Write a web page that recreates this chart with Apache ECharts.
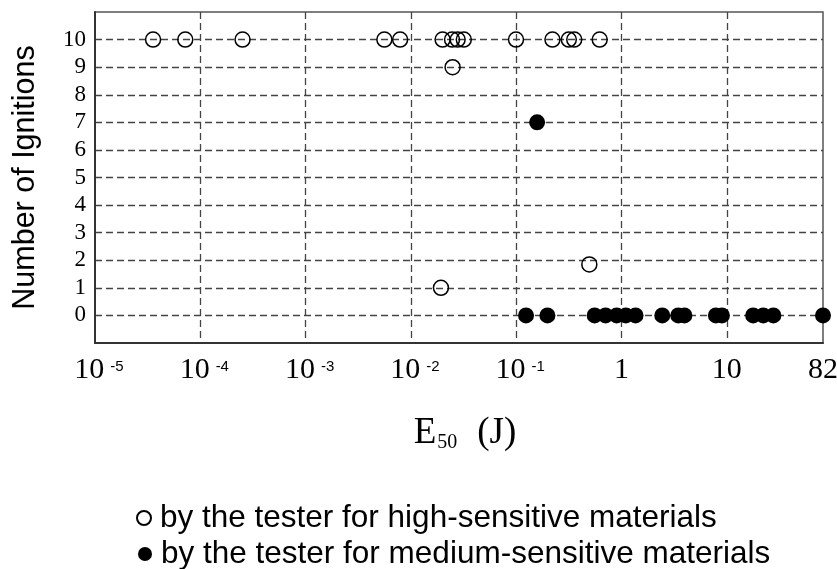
<!DOCTYPE html>
<html>
<head>
<meta charset="utf-8">
<script src="https://cdn.jsdelivr.net/npm/echarts@6/dist/echarts.min.js"></script>
<style>
  html, body { margin: 0; padding: 0; background: #fff; }
  #chart { width: 837px; height: 569px; }
</style>
</head>
<body>
<div id="chart"></div>
<script>
// high-sensitive tester (open circles)
const highE = [3.56e-5, 7.2e-5, 2.52e-4, 5.6e-3, 7.9e-3, 0.020, 0.0246, 0.0278, 0.0318,
  0.0996, 0.221, 0.316, 0.356, 0.621, 0.0249, 0.0193, 0.495]
const highN = [10, 10, 10, 10, 10, 10, 10, 10, 10, 10, 10, 10, 10, 10, 9, 1, 1.85]

// medium-sensitive tester (filled circles)
const medE = [0.158, 0.124, 0.198, 0.556, 0.706, 0.90, 1.10, 1.36, 2.44, 3.46, 3.96,
  7.88, 8.99, 17.8, 22.2, 27.7, 82]
const medN = [7, 0, 0, 0, 0, 0, 0, 0, 0, 0, 0, 0, 0, 0, 0, 0, 0]

const seriesNames = ['by the tester for high-sensitive materials', 'by the tester for medium-sensitive materials']

const serif = 'Liberation Serif'
const sans = 'Liberation Sans'

const toPairs = (xs, ys) => xs.map((x, i) => [x, ys[i]])

// one legend per row, so each row can be placed on its own
const legendRow = (name, top, left) => ({
  left: left,
  top: top,
  itemWidth: 22,
  itemHeight: 14,
  textStyle: { fontFamily: sans, fontSize: 31.5, color: '#000' },
  data: [name]
})

const chart = echarts.init(document.getElementById('chart'))
chart.setOption({
  animation: false,
  grid: {
    left: 95,
    right: 14,
    top: 12,
    bottom: 226,
    outerBoundsMode: 'none',
    show: true,
    borderColor: '#555',
    borderWidth: 1.5
  },
  legend: [
    legendRow(seriesNames[0], 497, 131),
    legendRow(seriesNames[1], 533, 133)
  ],
  xAxis: {
    type: 'log',
    logBase: 10,
    min: 1e-5,
    max: 82,
    splitNumber: 7,
    name: '{e|E}{s|50}{j|(J)}',
    nameLocation: 'middle',
    nameGap: 70,
    nameTextStyle: {
      padding: [0, 0, 0, 12],
      rich: {
        e: { fontFamily: serif, fontSize: 37, lineHeight: 40, color: '#000' },
        s: { fontFamily: serif, fontSize: 20, lineHeight: 10, verticalAlign: 'bottom', color: '#000', padding: [0, 20, 0, 1] },
        j: { fontFamily: serif, fontSize: 37, lineHeight: 40, color: '#000' }
      }
    },
    axisLine: { onZero: false, lineStyle: { color: '#333', width: 2 } },
    axisTick: { show: false },
    axisLabel: {
      margin: 12,
      formatter: function (v) {
        if (Math.abs(v - 82) < 1) return '{b|82}'
        const p = Math.round(Math.log10(v))
        if (p >= 0) return '{b|' + Math.pow(10, p) + '}'
        return '{p|10}{x|' + p + '}'
      },
      rich: {
        b: { fontFamily: serif, fontSize: 30, lineHeight: 30, color: '#000' },
        // powers of ten sit a little right of their tick in the original
        p: { fontFamily: serif, fontSize: 30, lineHeight: 30, color: '#000', padding: [0, 0, 0, 8] },
        x: { fontFamily: sans, fontSize: 15, lineHeight: 30, verticalAlign: 'top', color: '#000', padding: [4, 0, 0, 6] }
      }
    },
    splitLine: {
      show: true,
      showMinLine: false,
      showMaxLine: false,
      lineStyle: { color: '#444', width: 1.3, type: [7, 4] }
    }
  },
  yAxis: {
    type: 'value',
    min: -1,
    max: 11,
    interval: 1,
    name: 'Number of Ignitions',
    nameLocation: 'middle',
    nameRotate: 90,
    nameGap: 54,
    nameTextStyle: { fontFamily: sans, fontSize: 30.5, color: '#000' },
    axisLine: { show: true, onZero: false, lineStyle: { color: '#333', width: 2 } },
    axisTick: { show: false },
    axisLabel: {
      margin: 9,
      fontFamily: serif,
      fontSize: 23,
      color: '#000',
      formatter: v => (v < 0 || v > 10) ? '' : String(v)
    },
    splitLine: {
      show: true,
      showMinLine: false,
      showMaxLine: false,
      lineStyle: { color: '#444', width: 1.3, type: [7, 4] }
    }
  },
  series: [
    {
      name: seriesNames[0],
      type: 'scatter',
      symbol: 'circle',
      symbolSize: 15,
      itemStyle: { color: 'rgba(0,0,0,0)', borderColor: '#000', borderWidth: 1.5, opacity: 1 },
      data: toPairs(highE, highN)
    },
    {
      name: seriesNames[1],
      type: 'scatter',
      symbol: 'circle',
      symbolSize: 16,
      itemStyle: { color: '#000', opacity: 1 },
      data: toPairs(medE, medN)
    }
  ]
})
</script>
</body>
</html>
